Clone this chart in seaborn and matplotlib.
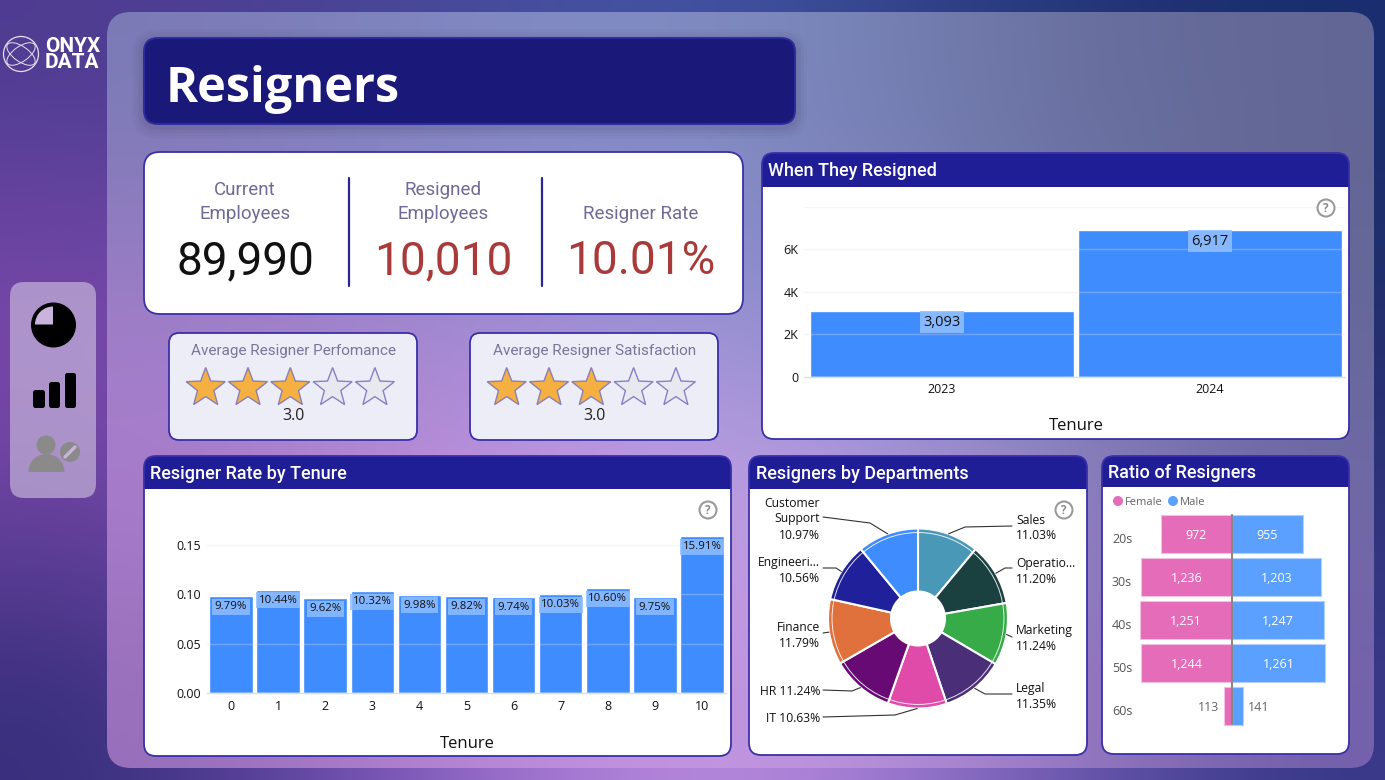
import numpy as np
import matplotlib
matplotlib.use("Agg")
import matplotlib.pyplot as plt
from matplotlib.patches import FancyBboxPatch, Rectangle, Polygon, Circle, Wedge, Ellipse
import seaborn as sns

# ---- data ----
YEARS = ["2023", "2024"]
YEAR_RESIGNERS = [3093, 6917]
TENURE = [str(i) for i in range(11)]
TENURE_RATE = [0.0979, 0.1044, 0.0962, 0.1032, 0.0998, 0.0982, 0.0974, 0.1003, 0.1060, 0.0975, 0.1591]
DEPARTMENTS = ["Sales", "Operations", "Marketing", "Legal", "IT", "HR", "Finance", "Engineering", "Customer Support"]
DEPT_SHARE = [11.03, 11.20, 11.24, 11.35, 10.63, 11.24, 11.79, 10.56, 10.97]
DEPT_COLORS = ["#4A98B8", "#1A4040", "#36AB47", "#4B2E78", "#E04BAA", "#680A74", "#E0703C", "#20209A", "#3F8CFF"]
AGE_GROUPS = ["20s", "30s", "40s", "50s", "60s"]
FEMALE = [972, 1236, 1251, 1244, 113]
MALE = [955, 1203, 1247, 1261, 141]
KPI_TITLES = ["Current\nEmployees", "Resigned\nEmployees", "Resigner Rate"]
KPI_VALUES = ["89,990", "10,010", "10.01%"]
RATINGS = [("Average Resigner Perfomance", 3.0), ("Average Resigner Satisfaction", 3.0)]

W, H = 1385, 780
NAVY = "#201E96"
BORDER = "#3A30A8"
BAR_BLUE = "#3F8CFF"
HEAD_FONT = ["Roboto", "DejaVu Sans"]
BODY_FONT = ["Open Sans", "DejaVu Sans"]

sns.set_theme(style="white")
plt.rcParams["font.family"] = BODY_FONT

fig = plt.figure(figsize=(W / 100, H / 100), dpi=100)
base = fig.add_axes([0, 0, 1, 1], zorder=0)
base.set_xlim(0, W)
base.set_ylim(H, 0)
base.axis("off")
top = fig.add_axes([0, 0, 1, 1], zorder=5)
top.set_xlim(0, W)
top.set_ylim(H, 0)
top.axis("off")
top.patch.set_alpha(0)


def chart_axes(left, t, right, bottom):
    """Axes placed by pixel edges of the figure."""
    ax = fig.add_axes([left / W, 1 - bottom / H, (right - left) / W, (bottom - t) / H], zorder=2)
    ax.patch.set_alpha(0)
    return ax


def rounded(x0, y0, x1, y1, r, ax=base, **kw):
    patch = FancyBboxPatch((x0 + r, y0 + r), x1 - x0 - 2 * r, y1 - y0 - 2 * r,
                           boxstyle=f"round,pad={r},rounding_size={r}", **kw)
    ax.add_patch(patch)
    return patch


def gradient(rgb_rows, extent, clip=None, z=0):
    im = base.imshow(np.array(rgb_rows, dtype=float) / 255, extent=extent, aspect="auto",
                     interpolation="bicubic", zorder=z)
    if clip is not None:
        im.set_clip_path(clip)
    base.set_xlim(0, W)
    base.set_ylim(H, 0)
    return im


def shadow(x0, y0, x1, y1, r):
    for grow, alpha in [(12, 0.02), (9, 0.025), (6, 0.03), (3, 0.035)]:
        rounded(x0 - grow, y0 - grow + 3, x1 + grow, y1 + grow + 3, r + grow,
                fc="black", ec="none", alpha=alpha, zorder=2)


def card(x0, y0, x1, y1, title=None, head_to=None, r=12):
    body = rounded(x0, y0, x1, y1, r, fc="white", ec="none", zorder=3)
    if title:
        band = Rectangle((x0, y0), x1 - x0, head_to - y0, fc=NAVY, ec="none", zorder=3.1)
        base.add_patch(band)
        band.set_clip_path(body)
        base.text(x0 + 6.5, (y0 + head_to) / 2 + 1.5, title, color="white", fontsize=13, fontweight="medium",
                  family=HEAD_FONT, va="center", zorder=4)
    rounded(x0, y0, x1, y1, r, fc="none", ec=BORDER, lw=1.3, zorder=3.2)


def help_icon(x, y):
    top.add_patch(Circle((x, y), 8.5, fc="white", ec="#9A9A9A", lw=1.5))
    top.text(x, y, "?", color="#8A8A8A", fontsize=8.5, fontweight="bold", ha="center", va="center")


def star(cx, cy, filled, r=20.5):
    angles = np.deg2rad(-90 + 36 * np.arange(10))
    radii = np.where(np.arange(10) % 2 == 0, r, r * 0.42)
    pts = np.c_[cx + radii * np.cos(angles), cy + radii * np.sin(angles)]
    base.add_patch(Polygon(pts, closed=True, fc="#F5B041" if filled else "#E8E9EE",
                           ec="#8A80B8" if filled else "#8580C8", lw=1, zorder=4))


def style_axis(ax):
    ax.set_xlabel("")
    ax.set_ylabel("")
    for side in ["top", "left", "right"]:
        ax.spines[side].set_visible(False)
    ax.spines["bottom"].set_color("#D5DEF5")
    ax.spines["bottom"].set_linewidth(1)
    ax.tick_params(axis="y", length=3, width=0.8, color="#BBBBBB", pad=1, labelsize=9, labelcolor="#111111")
    ax.tick_params(axis="x", length=0, pad=5, labelsize=9, labelcolor="#111111")
    ax.set_axisbelow(False)
    ax.grid(axis="y", color="#E0E4F0", alpha=0.3, lw=1)
    ax.grid(axis="x", visible=False)


# ---- page background ----
outer = [
    [(78, 60, 145), (70, 70, 150), (68, 88, 168), (45, 60, 130), (25, 45, 110)],
    [(122, 72, 170), (110, 80, 172), (95, 90, 175), (60, 65, 135), (32, 45, 105)],
    [(112, 68, 162), (135, 90, 190), (155, 110, 205), (100, 85, 165), (45, 50, 120)],
    [(52, 45, 122), (130, 90, 190), (200, 150, 230), (140, 110, 200), (55, 55, 135)],
]
gradient(outer, (0, W, H, 0))
panel = rounded(107, 12, 1374, 768, 24, fc="none", ec="none", zorder=0.5)
inner = [
    [(122, 122, 182), (128, 138, 195), (128, 140, 195), (108, 118, 165), (98, 102, 148)],
    [(158, 125, 198), (155, 135, 208), (145, 145, 212), (120, 125, 180), (100, 102, 150)],
    [(170, 125, 205), (200, 150, 225), (195, 165, 232), (160, 145, 210), (110, 105, 165)],
    [(150, 110, 185), (185, 135, 215), (200, 155, 228), (165, 130, 205), (115, 95, 170)],
]
gradient(inner, (107, 1374, 768, 12), clip=panel, z=1)

# ---- logo ----
top.add_patch(Circle((21, 54), 17.5, fc="none", ec="#E8E0F0", lw=0.9))
for angle in (35, -35):
    top.add_patch(Ellipse((21, 54), 33, 15, angle=angle, fc="none", ec="#E8E0F0", lw=0.7))
top.text(45, 46, "ONYX", color="white", fontsize=15, fontweight="bold", family=HEAD_FONT, va="center")
top.text(45, 63, "DATA", color="white", fontsize=15, fontweight="bold", family=HEAD_FONT, va="center")

# ---- navigation rail ----
rounded(10, 282, 96, 498, 14, fc="white", ec="none", alpha=0.42, zorder=2)
base.add_patch(Circle((53.5, 325), 22.5, fc="black", ec="none", zorder=3))
base.add_patch(Wedge((53, 324.5), 18, 180, 270, fc="#C9B4DE", ec="none", zorder=3.1))
for x0, x1, ytop in [(33, 45, 390), (49, 60, 382), (65, 76, 373)]:
    rounded(x0, ytop, x1, 408, 2.5, fc="black", ec="none", zorder=3)
GREY = "#8A8A8A"
base.add_patch(Circle((46, 445), 9.5, fc=GREY, ec="none", zorder=3))
base.add_patch(Wedge((46.5, 472), 18, 180, 360, fc=GREY, ec="none", zorder=3))
base.add_patch(Circle((70, 452), 10, fc=GREY, ec="none", zorder=3))
base.plot([65, 75], [457, 447], color="#C8B4DC", lw=2.4, zorder=3.1)

# ---- title ----
shadow(144, 38, 795, 124, 14)
rounded(144, 38, 795, 124, 14, fc="#1A1878", ec="#2E2AA0", lw=1.4, zorder=3)
base.text(166, 90, "Resigners", color="white", fontsize=35, fontweight="bold", family=BODY_FONT,
          va="center", zorder=4)

# ---- KPI card ----
card(144, 152, 743, 314, r=16)
for x, label, value, col in zip([245, 443, 641], KPI_TITLES, KPI_VALUES, ["#111111", "#A83A3A", "#A83A3A"]):
    if "\n" in label:
        first, second = label.split("\n")
        base.text(x, 190, first, color="#6F6A96", fontsize=13.5, family=HEAD_FONT, ha="center", va="center", zorder=4)
        base.text(x, 214, second, color="#6F6A96", fontsize=13.5, family=HEAD_FONT, ha="center", va="center", zorder=4)
    else:
        base.text(x, 214, label, color="#6F6A96", fontsize=13.5, family=HEAD_FONT, ha="center", va="center", zorder=4)
    base.text(x, 261, value, color=col, fontsize=33, family=HEAD_FONT, ha="center", va="center", zorder=4)
for x in (349, 542):
    base.plot([x, x], [178, 286], color="#2A2494", lw=1.6, zorder=4)

# ---- rating cards ----
for (label, rating), x0 in zip(RATINGS, (169, 470)):
    rounded(x0, 333, x0 + 248, 440, 10, fc="#EDEDF8", ec=BORDER, lw=1.3, zorder=3)
    base.text(x0 + 124.5, 350.5, label, color="#7A7599", fontsize=11, family=HEAD_FONT,
              ha="center", va="center", zorder=4)
    for i in range(5):
        star(x0 + 36.7 + 42.3 * i, 388, i < rating)
    base.text(x0 + 124.5, 416, f"{rating:.1f}", color="#222222", fontsize=11.5, ha="center", va="center", zorder=4)

# ---- when they resigned ----
card(762, 153, 1349, 439, "When They Resigned", 187)
ax = chart_axes(804, 207, 1345, 376.5)
sns.barplot(x=YEARS, y=YEAR_RESIGNERS, color=BAR_BLUE, saturation=1, width=0.985, ax=ax)
ax.set_xlim(-0.515, 1.504)
ax.set_ylim(0, 8000)
ax.set_yticks([0, 2000, 4000, 6000, 8000], ["0", "2K", "4K", "6K", ""])
style_axis(ax)
for i, v in enumerate(YEAR_RESIGNERS):
    ax.annotate(f"{v:,}", (i, v), xytext=(0, -8), textcoords="offset points", ha="center", va="center",
                fontsize=10.5, color="#111111", zorder=6,
                bbox=dict(boxstyle="square,pad=0.22", fc="#8FBDFF", ec="none", alpha=0.9))
top.text(1076, 426.5, "Tenure", color="#111111", fontsize=12, ha="center", va="center")
help_icon(1326, 208)

# ---- resigner rate by tenure ----
card(144, 456, 731, 756, "Resigner Rate by Tenure", 489)
ax = chart_axes(207, 530, 726, 693)
sns.barplot(x=TENURE, y=TENURE_RATE, color=BAR_BLUE, saturation=1, width=0.925, ax=ax)
ax.set_xlim(-0.51, 10.51)
ax.set_ylim(0, 0.1653)
ax.set_yticks([0, 0.05, 0.10, 0.15], ["0.00", "0.05", "0.10", "0.15"])
style_axis(ax)
for i, v in enumerate(TENURE_RATE):
    ax.annotate(f"{v * 100:.2f}%", (i, v), xytext=(0, -7.5), textcoords="offset points", ha="center", va="center",
                fontsize=8.2, color="#111111", zorder=6,
                bbox=dict(boxstyle="square,pad=0.22", fc="#8FBDFF", ec="none", alpha=0.85))
top.text(467, 743.5, "Tenure", color="#111111", fontsize=12, ha="center", va="center")
help_icon(708, 510)

# ---- resigners by department ----
card(749, 456, 1087, 755, "Resigners by Departments", 489)
PIE_X, PIE_Y, PIE_R = 918, 618.5, 90
ax = chart_axes(PIE_X - PIE_R, PIE_Y - PIE_R, PIE_X + PIE_R, PIE_Y + PIE_R)
wedges, _ = ax.pie(DEPT_SHARE, colors=DEPT_COLORS, startangle=90, counterclock=False, radius=1,
                   wedgeprops=dict(width=0.7, edgecolor="white", linewidth=1.5))
ax.set_xlim(-1, 1)
ax.set_ylim(-1, 1)
ax.add_patch(Circle((0, 0), 0.955, fc="none", ec="white", lw=0.7, alpha=0.85, zorder=5))

side = [
    ("left", 1016, ["Sales", "11.03%"], [519, 534], [(1012, 526), (965, 527)]),
    ("left", 1016, ["Operatio...", "11.20%"], [562, 578], [(1012, 568), (1005, 568)]),
    ("left", 1016, ["Marketing", "11.24%"], [629, 645], [(1012, 637)]),
    ("left", 1016, ["Legal", "11.35%"], [687, 703], [(1012, 694), (985, 694)]),
    ("right", 820, ["IT 10.63%"], [717], [(823, 717), (895, 715)]),
    ("right", 820, ["HR 11.24%"], [690], [(823, 690), (852, 691)]),
    ("right", 820, ["Finance", "11.79%"], [626, 642], [(823, 633)]),
    ("right", 820, ["Engineeri...", "10.56%"], [561, 577], [(823, 568), (836, 568)]),
    ("right", 820, ["Customer", "Support", "10.97%"], [502, 517, 534], [(823, 517), (870, 523)]),
]
cum = np.cumsum([0] + DEPT_SHARE)
for k, (ha, tx, lines, ys, path) in enumerate(side):
    for line, y in zip(lines, ys):
        top.text(tx, y + 1.5, line, color="#111111", fontsize=8.7, ha=ha, va="center")
    mid = np.deg2rad((cum[k] + cum[k + 1]) / 2 * 360 / cum[-1])
    edge = (PIE_X + PIE_R * np.sin(mid), PIE_Y - PIE_R * np.cos(mid))
    pts = np.array(path + [edge])
    top.plot(pts[:, 0], pts[:, 1], color="#333333", lw=0.8)
help_icon(1064, 510)

# ---- ratio of resigners ----
card(1102, 456, 1349, 754, "Ratio of Resigners", 487)
ax = chart_axes(1112, 512.7, 1345, 727.7)
FEMALE_SIDE = [-v for v in FEMALE]
sns.barplot(x=FEMALE_SIDE, y=AGE_GROUPS, color="#E46CB8", saturation=1, width=0.89, orient="h", ax=ax,
            edgecolor="#F3C0E2", linewidth=0.8)
sns.barplot(x=MALE, y=AGE_GROUPS, color="#5CA0FF", saturation=1, width=0.89, orient="h", ax=ax,
            edgecolor="#B0D0FF", linewidth=0.8)
ax.set_xlim(-120.3 / 0.0736, 112.7 / 0.0736)
ax.set_ylim(4.5, -0.5)
sns.despine(ax=ax, left=True, bottom=True)
ax.set_xticks([])
ax.set_xlabel("")
ax.set_ylabel("")
ax.set_yticks([i + 0.08 for i in range(5)], AGE_GROUPS)
ax.tick_params(axis="y", length=0, pad=0, labelsize=9, labelcolor="#555555")
for t in ax.get_yticklabels():
    t.set_ha("left")
ax.axvline(0, ymin=0.015, ymax=0.99, color="#888888", lw=1.5, zorder=5)
for i, (f, m) in enumerate(zip(FEMALE, MALE)):
    if f > 500:
        ax.text(-f / 2, i + 0.02, f"{f:,}", color="white", fontsize=9, ha="center", va="center", zorder=6)
        ax.text(m / 2, i + 0.02, f"{m:,}", color="white", fontsize=9, ha="center", va="center", zorder=6)
    else:
        ax.text(-f - 60, i + 0.02, f"{f:,}", color="#666666", fontsize=9, ha="right", va="center", zorder=6)
        ax.text(m + 70, i + 0.02, f"{m:,}", color="#666666", fontsize=9, ha="left", va="center", zorder=6)
top.add_patch(Circle((1118, 501), 5, fc="#E46CB8", ec="none"))
top.add_patch(Circle((1173, 501), 5, fc="#5CA0FF", ec="none"))
top.text(1125, 502.5, "Female", color="#666666", fontsize=8, va="center")
top.text(1180, 502.5, "Male", color="#666666", fontsize=8, va="center")

fig.savefig("out.png", dpi=100)
